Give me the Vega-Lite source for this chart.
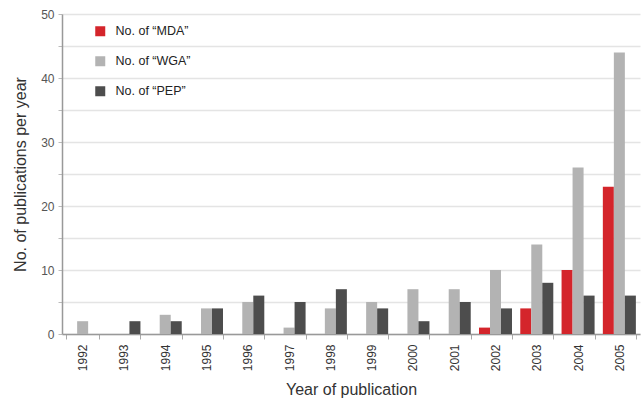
{
  "$schema": "https://vega.github.io/schema/vega-lite/v6.json",
  "width": 578,
  "height": 320,
  "autosize": "none",
  "padding": {"left": 62, "top": 14, "right": 2, "bottom": 68},
  "background": "white",
  "config": {
    "font": "Liberation Sans",
    "view": {"stroke": null}
  },
  "data": {
    "values": [
      {"year": "1992", "series": "No. of “MDA”", "count": 0},
      {"year": "1992", "series": "No. of “WGA”", "count": 2},
      {"year": "1992", "series": "No. of “PEP”", "count": 0},
      {"year": "1993", "series": "No. of “MDA”", "count": 0},
      {"year": "1993", "series": "No. of “WGA”", "count": 0},
      {"year": "1993", "series": "No. of “PEP”", "count": 2},
      {"year": "1994", "series": "No. of “MDA”", "count": 0},
      {"year": "1994", "series": "No. of “WGA”", "count": 3},
      {"year": "1994", "series": "No. of “PEP”", "count": 2},
      {"year": "1995", "series": "No. of “MDA”", "count": 0},
      {"year": "1995", "series": "No. of “WGA”", "count": 4},
      {"year": "1995", "series": "No. of “PEP”", "count": 4},
      {"year": "1996", "series": "No. of “MDA”", "count": 0},
      {"year": "1996", "series": "No. of “WGA”", "count": 5},
      {"year": "1996", "series": "No. of “PEP”", "count": 6},
      {"year": "1997", "series": "No. of “MDA”", "count": 0},
      {"year": "1997", "series": "No. of “WGA”", "count": 1},
      {"year": "1997", "series": "No. of “PEP”", "count": 5},
      {"year": "1998", "series": "No. of “MDA”", "count": 0},
      {"year": "1998", "series": "No. of “WGA”", "count": 4},
      {"year": "1998", "series": "No. of “PEP”", "count": 7},
      {"year": "1999", "series": "No. of “MDA”", "count": 0},
      {"year": "1999", "series": "No. of “WGA”", "count": 5},
      {"year": "1999", "series": "No. of “PEP”", "count": 4},
      {"year": "2000", "series": "No. of “MDA”", "count": 0},
      {"year": "2000", "series": "No. of “WGA”", "count": 7},
      {"year": "2000", "series": "No. of “PEP”", "count": 2},
      {"year": "2001", "series": "No. of “MDA”", "count": 0},
      {"year": "2001", "series": "No. of “WGA”", "count": 7},
      {"year": "2001", "series": "No. of “PEP”", "count": 5},
      {"year": "2002", "series": "No. of “MDA”", "count": 1},
      {"year": "2002", "series": "No. of “WGA”", "count": 10},
      {"year": "2002", "series": "No. of “PEP”", "count": 4},
      {"year": "2003", "series": "No. of “MDA”", "count": 4},
      {"year": "2003", "series": "No. of “WGA”", "count": 14},
      {"year": "2003", "series": "No. of “PEP”", "count": 8},
      {"year": "2004", "series": "No. of “MDA”", "count": 10},
      {"year": "2004", "series": "No. of “WGA”", "count": 26},
      {"year": "2004", "series": "No. of “PEP”", "count": 6},
      {"year": "2005", "series": "No. of “MDA”", "count": 23},
      {"year": "2005", "series": "No. of “WGA”", "count": 44},
      {"year": "2005", "series": "No. of “PEP”", "count": 6}
    ]
  },
  "mark": {"type": "bar"},
  "encoding": {
    "x": {
      "field": "year",
      "type": "nominal",
      "scale": {"paddingInner": 0.2, "paddingOuter": 0.1},
      "axis": {
        "title": "Year of publication",
        "titleFontSize": 16,
        "titleFontWeight": "normal",
        "titleColor": "#333333",
        "titlePadding": 11,
        "labelAngle": 270,
        "labelAlign": "right",
        "labelBaseline": "middle",
        "labelFontSize": 12,
        "labelColor": "#333333",
        "labelPadding": 5,
        "tickBand": "extent",
        "ticks": true,
        "tickColor": "#aaaaaa",
        "tickSize": 5,
        "domainColor": "#999999",
        "domainWidth": 1.5,
        "grid": false
      }
    },
    "xOffset": {
      "field": "series",
      "type": "nominal",
      "sort": ["No. of “MDA”", "No. of “WGA”", "No. of “PEP”"],
      "scale": {"paddingInner": 0, "paddingOuter": 0}
    },
    "y": {
      "field": "count",
      "type": "quantitative",
      "scale": {"domain": [0, 50], "nice": false},
      "axis": {
        "title": "No. of publications per year",
        "titleFontSize": 16,
        "titleFontWeight": "normal",
        "titleColor": "#333333",
        "titlePadding": 12,
        "values": [0, 5, 10, 15, 20, 25, 30, 35, 40, 45, 50],
        "labelExpr": "datum.value % 10 == 0 ? datum.label : ''",
        "labelFontSize": 12,
        "labelColor": "#555555",
        "labelPadding": 4,
        "tickColor": "#bbbbbb",
        "tickSize": 4,
        "domainColor": "#999999",
        "domainWidth": 1.5,
        "gridColor": "#e4e4e4",
        "gridWidth": 1.5
      }
    },
    "color": {
      "field": "series",
      "type": "nominal",
      "scale": {
        "domain": ["No. of “MDA”", "No. of “WGA”", "No. of “PEP”"],
        "range": ["#d4252b", "#b3b3b3", "#4d4d4d"]
      },
      "legend": {
        "title": null,
        "orient": "none",
        "legendX": 32,
        "legendY": 11,
        "symbolType": "square",
        "symbolSize": 100,
        "symbolStrokeWidth": 0,
        "labelFontSize": 12.5,
        "labelColor": "#222222",
        "labelOffset": 9,
        "rowPadding": 17
      }
    }
  }
}
